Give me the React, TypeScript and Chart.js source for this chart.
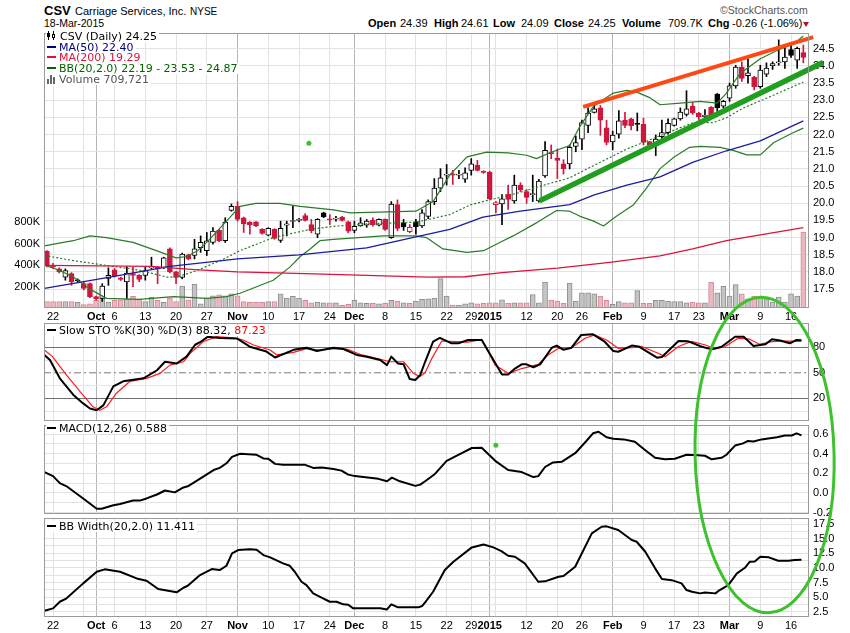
import React, { useEffect, useRef } from 'react';
import { Chart, registerables } from 'chart.js';

Chart.register(...registerables);

const FONT = "'Liberation Sans', Arial, Helvetica, sans-serif";
const LEGEND_FONT = "'DejaVu Sans', Verdana, sans-serif";

// ---------------- data (trading-day index 0 = 19-Sep-2014 ... 123 = 18-Mar-2015) ----------------
const OPEN = [
  18.60, 18.19, 18.09, 17.85, 17.95, 17.76, 17.66, 17.66, 17.28, 17.23,
  17.81, 18.06, 17.83, 17.71, 17.95, 17.90, 17.90, 18.12, 18.14, 18.12,
  18.67, 18.00, 17.84, 18.50, 18.48, 18.71, 18.62, 18.86, 19.21, 18.91,
  19.79, 19.91, 19.58, 19.45, 19.46, 19.24, 19.07, 19.24, 18.92, 19.36,
  19.47, 19.50, 19.64, 19.38, 19.10, 19.72, 19.55, 19.54, 19.60, 19.46,
  19.21, 19.34, 19.36, 19.50, 19.36, 19.53, 19.00, 19.96, 19.43, 19.17,
  19.46, 19.34, 19.62, 20.05, 20.44, 20.82, 20.86, 20.82, 20.70, 20.96,
  21.11, 20.93, 20.91, 19.96, 19.98, 20.26, 20.07, 20.53, 20.34, 20.25,
  20.07, 20.80, 21.48, 21.32, 21.15, 21.15, 21.66, 21.87, 22.27, 22.65,
  22.78, 22.20, 21.79, 22.01, 22.42, 22.46, 22.33, 22.30, 21.80, 21.70,
  21.94, 22.06, 22.27, 22.46, 22.59, 22.83, 22.63, 22.52, 22.80, 23.18,
  22.83, 23.06, 23.42, 23.97, 23.72, 23.67, 23.40, 23.76, 24.00, 24.09,
  24.12, 24.48, 24.17, 24.39,
];
const HIGH = [
  18.62, 18.25, 18.12, 18.09, 17.98, 17.80, 17.70, 17.68, 17.30, 17.66,
  18.12, 18.10, 17.85, 18.16, 18.14, 17.92, 18.16, 18.43, 18.16, 18.43,
  18.70, 18.02, 18.55, 18.52, 18.95, 19.05, 19.15, 19.29, 19.24, 19.58,
  19.98, 20.05, 19.60, 19.47, 19.47, 19.26, 19.29, 19.26, 19.48, 19.48,
  19.91, 19.56, 19.70, 19.53, 19.55, 19.74, 19.67, 19.62, 19.62, 19.48,
  19.48, 19.58, 19.53, 19.58, 19.55, 19.55, 20.05, 20.10, 19.53, 19.38,
  19.53, 19.82, 20.10, 20.72, 21.01, 21.13, 20.96, 20.96, 21.03, 21.30,
  21.25, 20.95, 20.93, 20.05, 20.25, 20.53, 20.82, 20.60, 20.40, 20.82,
  20.70, 21.80, 21.70, 21.58, 21.27, 21.70, 21.96, 22.42, 22.78, 22.94,
  22.85, 22.42, 22.10, 22.70, 22.65, 22.48, 22.63, 22.48, 21.80, 21.99,
  22.42, 22.46, 22.48, 22.78, 23.28, 22.94, 22.65, 22.73, 22.82, 23.20,
  23.00, 23.50, 24.02, 24.12, 24.21, 23.70, 24.02, 24.09, 24.12, 24.76,
  24.60, 24.66, 24.55, 24.61,
];
const LOW = [
  18.15, 18.10, 17.97, 17.76, 17.61, 17.70, 17.48, 17.25, 17.18, 17.14,
  17.61, 17.85, 17.75, 17.23, 17.57, 17.72, 17.76, 18.09, 17.66, 18.10,
  17.97, 17.66, 17.80, 18.35, 18.38, 18.57, 18.48, 18.81, 18.88, 18.86,
  19.77, 19.48, 19.15, 19.10, 19.32, 19.10, 19.05, 18.95, 18.86, 19.05,
  19.29, 19.46, 19.48, 19.14, 19.00, 19.58, 19.38, 19.48, 19.48, 19.14,
  19.14, 19.33, 19.30, 19.33, 19.34, 19.21, 18.98, 19.20, 19.21, 19.14,
  19.10, 19.30, 19.55, 19.96, 20.34, 20.53, 20.55, 20.72, 20.61, 20.82,
  20.94, 20.87, 20.11, 19.72, 19.38, 19.82, 20.00, 20.34, 20.00, 20.05,
  20.03, 20.75, 21.30, 20.72, 20.85, 21.00, 21.50, 21.56, 22.06, 22.63,
  21.98, 21.70, 21.56, 21.90, 22.20, 22.14, 22.11, 21.70, 21.65, 21.39,
  21.82, 22.01, 22.25, 22.42, 22.54, 22.59, 22.42, 22.42, 22.48, 22.68,
  22.78, 22.97, 23.35, 23.55, 23.50, 23.30, 23.35, 23.69, 23.90, 24.02,
  23.93, 24.25, 23.93, 24.09,
];
const CLOSE = [
  18.19, 18.14, 18.00, 18.04, 17.71, 17.74, 17.52, 17.28, 17.22, 17.59,
  17.90, 17.88, 17.78, 17.97, 17.90, 17.78, 18.04, 18.14, 18.09, 18.41,
  18.00, 17.84, 18.52, 18.38, 18.67, 18.86, 18.91, 19.19, 18.91, 19.45,
  19.91, 19.53, 19.40, 19.38, 19.34, 19.12, 19.27, 18.98, 19.27, 19.40,
  19.49, 19.53, 19.50, 19.20, 19.53, 19.60, 19.52, 19.56, 19.50, 19.19,
  19.33, 19.43, 19.48, 19.38, 19.53, 19.24, 19.98, 19.27, 19.31, 19.30,
  19.32, 19.72, 20.05, 20.44, 20.74, 20.84, 20.82, 20.83, 20.89, 21.15,
  20.96, 20.90, 20.13, 20.02, 20.13, 20.11, 20.53, 20.39, 20.17, 20.28,
  20.65, 21.54, 21.44, 21.25, 21.01, 21.63, 21.77, 22.35, 22.63, 22.75,
  22.42, 21.77, 21.99, 22.40, 22.27, 22.26, 22.30, 21.77, 21.70, 21.87,
  22.06, 22.33, 22.46, 22.66, 22.75, 22.63, 22.52, 22.57, 22.52, 22.78,
  22.97, 23.42, 23.97, 23.64, 23.80, 23.40, 23.88, 23.94, 24.07, 24.10,
  24.26, 24.31, 24.51, 24.25,
];
// volume in thousands of shares
const VOLUME_K = [
  61, 61, 61, 61, 61, 52, 31, 40, 71, 92,
  55, 71, 77, 83, 108, 83, 61, 101, 71, 52,
  92, 61, 206, 77, 224, 40, 92, 114, 123, 114,
  132, 114, 61, 52, 52, 52, 61, 61, 132, 92,
  108, 92, 71, 49, 55, 49, 49, 49, 25, 34,
  71, 49, 43, 43, 40, 43, 71, 65, 49, 43,
  65, 80, 86, 92, 274, 111, 28, 28, 40, 49,
  40, 43, 49, 49, 77, 43, 49, 49, 49, 126,
  49, 243, 74, 65, 43, 234, 65, 141, 141, 132,
  111, 71, 34, 59, 49, 49, 163, 43, 43, 71,
  71, 65, 59, 59, 49, 55, 49, 49, 243, 141,
  203, 111, 218, 132, 86, 111, 111, 86, 55, 101,
  55, 132, 111, 709.721,
];

// overlays: [trading-day index, value]
const MA50 = [[-0.4, 17.52], [10, 17.84], [20, 18.16], [31, 18.38], [41, 18.5], [52, 18.7], [60, 19.02], [65.5, 19.24], [70.9, 19.6], [77, 19.77], [85, 19.96], [88.9, 20.24], [94.3, 20.53], [99.7, 20.77], [105.1, 21.2], [110.5, 21.53], [116, 21.82], [123, 22.4]];
const MA200 = [[-0.4, 18.19], [17, 18.16], [24, 18.07], [31, 18.0], [42, 17.95], [52, 17.9], [62, 17.85], [68, 17.86], [74, 17.98], [83, 18.11], [91.5, 18.28], [99.7, 18.47], [105, 18.67], [110.5, 18.91], [116, 19.08], [123, 19.29]];
const BB_UPPER = [[-0.4, 18.76], [2, 18.84], [4.3, 18.91], [7, 19.05], [9.7, 19.0], [14, 18.86], [17.8, 18.62], [21, 18.41], [22.7, 18.45], [24.5, 18.62], [26, 18.86], [29.2, 19.48], [31.4, 19.91], [34, 20.0], [37.9, 20.0], [41.2, 19.91], [46.6, 19.81], [49.3, 19.72], [60, 19.77], [62.8, 20.05], [65.5, 20.82], [68.3, 21.35], [71.5, 21.49], [75, 21.47], [78, 21.4], [79.6, 21.3], [81.5, 21.45], [83.4, 21.58], [85, 21.68], [86.7, 22.25], [88.9, 22.83], [90.5, 23.02], [92.1, 23.21], [94.3, 23.29], [96, 23.23], [98.1, 23.07], [99.7, 22.87], [103, 22.92], [106.2, 22.97], [109, 22.92], [110.5, 23.21], [112.7, 23.78], [116, 24.21], [118.7, 24.45], [121.4, 24.64], [123, 24.87]];
const BB_MIDDLE = [[-0.4, 18.48], [4.3, 18.33], [9.7, 18.19], [15.1, 18.05], [19.5, 17.85], [21, 17.85], [23.8, 18.0], [28.2, 18.33], [31.4, 18.62], [36.8, 19.0], [42.8, 19.24], [46.6, 19.33], [52, 19.4], [60, 19.45], [65.5, 19.67], [68.8, 19.95], [70.9, 20.05], [76.4, 20.29], [81.8, 20.58], [85, 20.74], [88.9, 21.1], [94.3, 21.58], [99.7, 21.97], [105.1, 22.35], [108.3, 22.35], [110.5, 22.49], [113.3, 22.78], [117, 23.06], [123, 23.53]];
const BB_LOWER = [[-0.4, 18.2], [2, 18.05], [4.3, 17.85], [7, 17.5], [9.7, 17.23], [15, 17.2], [20.6, 17.28], [26, 17.23], [29.2, 17.28], [31.4, 17.38], [36.8, 17.76], [39.5, 18.14], [41.2, 18.45], [42.8, 18.67], [44.4, 18.91], [46.6, 18.95], [54.7, 19.05], [60, 19.05], [61.7, 19.0], [64.4, 18.67], [68.3, 18.57], [71, 18.62], [74.2, 18.91], [75.8, 19.05], [79.6, 19.43], [82.9, 19.79], [85, 19.77], [86.7, 19.62], [88.9, 19.48], [90.5, 19.34], [92.6, 19.62], [95.4, 19.96], [97.5, 20.44], [99.7, 21.01], [102, 21.35], [104.5, 21.63], [106.2, 21.66], [109.5, 21.63], [111.6, 21.54], [113.8, 21.41], [116, 21.41], [118.2, 21.77], [121.4, 22.06], [123, 22.19]];
const TREND_UPPER = [[87.2, 22.81], [124.6, 24.84]];
const TREND_LOWER = [[80.1, 20.07], [126.2, 24.1]];
const MAIN_MARK = [[42.6, 21.75]];

const STO_K = [[-0.4, 71], [0.5, 65], [2.1, 43.5], [4.3, 24], [5.9, 14], [7, 8], [8.1, 6], [9.2, 12], [10.8, 34], [12.4, 40], [15.7, 43.5], [17.9, 53], [19.2, 63], [21.1, 61], [22.7, 69], [24.1, 83], [24.9, 86], [26.2, 92.5], [28.1, 91], [30.9, 90.5], [33, 80.7], [35.7, 75], [37.1, 68], [40.1, 77], [42.2, 79.5], [43.9, 75.6], [46.6, 79.5], [48.2, 78], [50.4, 71], [52, 69], [54.2, 65], [55.3, 59], [56, 69], [57.1, 61], [58, 60], [59, 42.7], [59.9, 41.5], [60.7, 47.4], [61.5, 63], [62.8, 86.6], [63.9, 91], [65.8, 84.7], [66.9, 84.7], [68.5, 88.6], [70.7, 88.6], [74, 48], [75, 48], [76.1, 55], [77.2, 60], [78, 60], [79.1, 56.5], [80.2, 60], [82.1, 79.5], [82.9, 82], [84, 77], [85.3, 79.5], [86.9, 94.5], [88.8, 95.3], [90.7, 86.6], [92.1, 75.6], [92.9, 74.8], [95.1, 82], [96.2, 81], [99.2, 67.8], [100, 68.5], [102.7, 87.4], [104.3, 87], [106.5, 80.7], [108.1, 77.6], [109.7, 80.7], [111.9, 92.5], [113.3, 92.5], [114.9, 81.5], [116.8, 83.5], [117.9, 89.4], [119.2, 88], [120.8, 84.7], [121.9, 88.6], [122.7, 88.32]];
const STO_D = [[-0.4, 76.8], [0.9, 69], [3.2, 47.4], [5.4, 27.8], [7.5, 10], [8.6, 6], [9.7, 10], [11.3, 26], [13.5, 40], [16.2, 43.5], [18.4, 49.4], [20, 59], [22.2, 63], [23.3, 73], [25.4, 86.6], [27.6, 92.5], [30.3, 91], [31.9, 88.6], [33.6, 82.7], [36.3, 76.8], [37.4, 71], [40.1, 74], [42.2, 78.4], [44.4, 76.8], [46.6, 78.4], [48.8, 78], [50.9, 71.8], [53.6, 67], [55.8, 63], [58, 63], [59.6, 49.4], [60.6, 45.5], [61.5, 50], [62.6, 67], [64.2, 87.4], [66.4, 86.6], [68.5, 86], [70.7, 89.4], [72.9, 59], [75, 49.4], [77.2, 55], [79.9, 60], [81.5, 71], [83.2, 78.8], [85.3, 79.5], [87.5, 90.6], [89.1, 94.5], [91, 88.6], [92.9, 78.8], [95.1, 79.5], [96.7, 81], [99.4, 73], [100.5, 69], [102.7, 81], [104.8, 87], [107.1, 82.7], [108.7, 78], [110.2, 80.7], [112.4, 90.6], [114.1, 90], [115.9, 83.5], [117.9, 86.6], [120, 87.4], [122.7, 87.23]];
const STO_LEVEL_MID = 50;

const MACD = [[-0.4, 0.213], [1, 0.172], [2.1, 0.1], [3.2, 0.068], [5.9, -0.056], [8.1, -0.162], [8.9, -0.162], [10.8, -0.125], [11.9, -0.112], [14, -0.078], [15.1, -0.078], [16.2, -0.056], [17.9, -0.016], [19.2, 0.025], [20.8, 0.006], [22.2, 0.056], [22.9, 0.068], [24.4, 0.125], [27.1, 0.234], [28.1, 0.256], [29.2, 0.303], [30.1, 0.368], [31.4, 0.4], [34.1, 0.39], [35.2, 0.353], [36, 0.35], [37.1, 0.297], [38.4, 0.287], [42, 0.287], [43.3, 0.256], [44.7, 0.26], [46.6, 0.244], [47.9, 0.228], [49, 0.187], [50.1, 0.172], [53.9, 0.144], [55.3, 0.119], [56.1, 0.156], [57.4, 0.119], [59.9, 0.072], [60.7, 0.085], [61.5, 0.12], [63.1, 0.194], [65, 0.328], [66.9, 0.39], [69.1, 0.459], [70.7, 0.462], [72.9, 0.328], [75, 0.234], [77.2, 0.213], [79.1, 0.162], [79.9, 0.172], [81, 0.265], [82.3, 0.312], [83.7, 0.318], [85.9, 0.406], [87.5, 0.515], [88.8, 0.609], [89.7, 0.625], [91, 0.569], [92.1, 0.553], [93.8, 0.547], [95.6, 0.522], [97.3, 0.437], [98.9, 0.359], [100.5, 0.344], [102.1, 0.35], [104, 0.39], [105.9, 0.384], [107, 0.38], [108.1, 0.344], [109.7, 0.359], [110.5, 0.39], [111.9, 0.484], [113.2, 0.506], [114, 0.531], [114.9, 0.525], [116.2, 0.547], [118.7, 0.569], [120, 0.587], [121.1, 0.587], [121.9, 0.609], [122.7, 0.588]];
const MACD_MARK = [[73.0, 0.487]];

const BB_WIDTH = [[-0.4, 2.67], [1, 3.08], [2.1, 4.21], [3.2, 4.79], [5.9, 7.35], [8.1, 9.34], [9.4, 9.75], [11.9, 9.34], [14.6, 8.2], [16.2, 7.8], [18.1, 6.38], [21.1, 5.82], [22.2, 6.6], [22.9, 6.94], [24.9, 8.77], [26.8, 9.8], [28.1, 9.63], [29.2, 10.36], [30.1, 12.48], [31.1, 13.05], [33, 13.2], [34.1, 13.1], [35.2, 12.19], [36.3, 11.8], [38.4, 10.77], [39.5, 10.36], [40.3, 9.34], [41.4, 7.63], [42.2, 7.06], [43.3, 5.64], [44.9, 4.79], [46, 4.21], [47.1, 4.21], [48.2, 3.76], [49, 3.7], [49.8, 3.08], [54.2, 3.08], [55.3, 2.9], [56, 3.76], [57.1, 3.25], [60.4, 3.25], [61, 3.47], [61.5, 4.1], [62.8, 5.92], [64.7, 9.63], [66.1, 11.05], [69.1, 13.5], [71, 14.0], [72.6, 13.5], [73.9, 12.87], [75, 12.07], [76.1, 11.9], [77.7, 10.77], [79.9, 7.63], [81, 7.7], [83.2, 8.48], [84, 8.6], [85.9, 10.19], [88.6, 15.9], [90.2, 17.03], [91, 17.1], [92.9, 16.47], [95.1, 14.76], [95.9, 14.47], [97.3, 12.76], [98.9, 9.92], [100, 8.09], [101.6, 7.9], [103.2, 7.35], [104, 6.21], [104.9, 5.92], [106.2, 5.64], [107, 5.8], [108.7, 5.64], [109.4, 6.21], [110.8, 7.06], [112.2, 9.06], [113.5, 10.02], [114.3, 11.05], [115.1, 11.1], [116, 11.9], [117.4, 11.8], [118.9, 11.22], [120.6, 11.2], [121.6, 11.34], [122.7, 11.41]];

// hand-drawn ellipse annotation, in (trading-day index, BB-width units)
const ELLIPSE_CENTER = [116.7, 29.3];
const ELLIPSE_RADII = [11.3, 27.0];
const ELLIPSE_TILT = -0.025;

// ---------------- axes ----------------
const X_MIN = -0.472;
const X_MAX = 123.92;
const TICK_INDEX = [1, 6, 8, 11, 16, 21, 26, 31, 36, 41, 46, 50, 55, 60, 65, 69, 72, 73, 78, 83, 87, 92, 97, 102, 106, 111, 116, 121];
const TICK_LABELS = ['22', '', 'Oct', '6', '13', '20', '27', 'Nov', '10', '17', '24', 'Dec', '8', '15', '22', '29', '2015', '', '12', '20', '26', 'Feb', '9', '17', '23', 'Mar', '9', '16'];
const MONTH_INDEX = [8, 31, 50, 72, 92, 111];

const PRICE_MIN = 16.95;
const PRICE_MAX = 24.96;
const PRICE_TICKS = [17.5, 18, 18.5, 19, 19.5, 20, 20.5, 21, 21.5, 22, 22.5, 23, 23.5, 24, 24.5];
const VOL_MAX = 2570;
const VOL_TICKS = [200, 400, 600, 800];
const STO_MIN = -6.7;
const STO_MAX = 108.6;
const STO_TICKS = [5, 20, 35, 50, 65, 80, 95];
const STO_LABELED = [20, 50, 80];
const STO_STRONG = [20, 80];
const MACD_MIN = -0.215;
const MACD_MAX = 0.694;
const MACD_TICKS = [-0.2, -0.1, 0, 0.1, 0.2, 0.3, 0.4, 0.5, 0.6];
const BBW_MIN = 1.6;
const BBW_MAX = 18.53;
const BBW_TICKS = [2.5, 3.75, 5, 6.25, 7.5, 8.75, 10, 11.25, 12.5, 13.75, 15, 16.25, 17.5];

// header / legend text
const HEADER_LABELS = ['Open', 'High', 'Low', 'Close', 'Volume', 'Chg'];
const HEADER_VALUES = ['24.39', '24.61', '24.09', '24.25', '709.7K', '-0.26 (-1.06%)'];

// ---------------- styles ----------------
const UP = '#000000';
const DOWN = '#d0163c';
const VOL_UP_FILL = '#c4c4c4';
const VOL_UP_LINE = '#8e8e8e';
const VOL_DOWN_FILL = '#ebb8c0';
const VOL_DOWN_LINE = '#d08896';
const BB_COLOR = '#2a7a2a';
const GRID = '#e2e2e2';
const GRID_MONTH = '#b4b4b4';
const HEADER_LABEL_X = [368, 434, 493, 554, 622, 708];
const HEADER_VALUE_X = [400, 461, 521, 588, 668, 732];

const IDX = OPEN.map((_, i) => i);
const candleColor = IDX.map((i) => (CLOSE[i] >= (i ? CLOSE[i - 1] : OPEN[i]) ? UP : DOWN));
const candleFill = IDX.map((i) => (CLOSE[i] > OPEN[i] ? '#ffffff' : candleColor[i]));
const volFill = IDX.map((i) => (candleColor[i] === DOWN ? VOL_DOWN_FILL : VOL_UP_FILL));
const volLine = IDX.map((i) => (candleColor[i] === DOWN ? VOL_DOWN_LINE : VOL_UP_LINE));

const pts = (arr: number[][]) => arr.map(([x, y]) => ({ x, y }));

const zeroPad = (s: any) => {
  s.paddingTop = 0;
  s.paddingBottom = 0;
  s.paddingLeft = 0;
  s.paddingRight = 0;
};
const fixW = (w: number) => (s: any) => {
  s.width = w;
  zeroPad(s);
};
const fixH = (h: number) => (s: any) => {
  s.height = h;
  zeroPad(s);
};
const setTicks = (vals: number[]) => (s: any) => {
  s.ticks = vals.map((v) => ({ value: v }));
};

function xScale(showLabels: boolean, height: number) {
  return {
    type: 'linear',
    min: X_MIN,
    max: X_MAX,
    bounds: 'data',
    offset: false,
    afterBuildTicks: setTicks(TICK_INDEX),
    afterFit: fixH(height),
    grid: {
      offset: false,
      drawTicks: false,
      lineWidth: 1,
      color: (c: any) => (c.tick && MONTH_INDEX.includes(c.tick.value) ? GRID_MONTH : GRID),
    },
    border: { display: false },
    ticks: {
      display: showLabels,
      autoSkip: false,
      maxRotation: 0,
      minRotation: 0,
      padding: 2,
      color: '#000',
      font: (c: any) => ({
        family: FONT,
        size: 11,
        weight: c.tick && MONTH_INDEX.includes(c.tick.value) ? 'bold' : 'normal',
      }),
      callback: (v: number) => {
        const k = TICK_INDEX.indexOf(v);
        return k >= 0 ? TICK_LABELS[k] : '';
      },
    },
  };
}

function yScale(o: any) {
  return {
    type: 'linear',
    axis: 'y',
    position: o.position || 'right',
    min: o.min,
    max: o.max,
    bounds: 'data',
    afterBuildTicks: setTicks(o.ticks),
    afterFit: fixW(o.width),
    grid: { display: o.grid !== false, drawTicks: false, color: o.gridColor || GRID, lineWidth: 1 },
    border: { display: false },
    ticks: {
      padding: 4,
      color: '#000',
      autoSkip: false,
      font: { family: FONT, size: 11 },
      callback: o.label,
    },
  };
}

const framePlugin = {
  id: 'frame',
  afterDraw(chart: any) {
    const { ctx, chartArea: a } = chart;
    ctx.save();
    ctx.strokeStyle = '#9a9a9a';
    ctx.lineWidth = 1;
    ctx.strokeRect(Math.round(a.left) + 0.5, Math.round(a.top) + 0.5, Math.round(a.right - a.left) - 1, Math.round(a.bottom - a.top) - 1);
    ctx.restore();
  },
};

const ellipsePlugin = {
  id: 'ellipse',
  afterDraw(chart: any) {
    const { ctx, scales } = chart;
    const x = scales.x;
    const y = scales.y;
    const cx = x.getPixelForValue(ELLIPSE_CENTER[0]);
    const cy = y.getPixelForValue(ELLIPSE_CENTER[1]);
    const rx = x.getPixelForValue(ELLIPSE_CENTER[0] + ELLIPSE_RADII[0]) - cx;
    const ry = cy - y.getPixelForValue(ELLIPSE_CENTER[1] + ELLIPSE_RADII[1]);
    ctx.save();
    ctx.strokeStyle = '#3cc22c';
    ctx.lineWidth = 3;
    ctx.beginPath();
    ctx.ellipse(cx, cy, rx, ry, ELLIPSE_TILT, 0, Math.PI * 2);
    ctx.stroke();
    ctx.restore();
  },
};

const baseOptions = (padding: any) => ({
  animation: false,
  responsive: false,
  events: [],
  layout: { padding },
  plugins: { legend: { display: false }, tooltip: { enabled: false } },
});

function lineDs(data: number[][], color: string, width: number, extra: any = {}) {
  return {
    type: 'line',
    data: pts(data),
    borderColor: color,
    backgroundColor: color,
    borderWidth: width,
    pointRadius: 0,
    tension: 0,
    fill: false,
    borderJoinStyle: 'round',
    ...extra,
  };
}

function makeMain(canvas: HTMLCanvasElement) {
  return new Chart(canvas, {
    type: 'bar',
    data: {
      datasets: [
        {
          type: 'bar',
          yAxisID: 'vol',
          data: IDX.map((i) => ({ x: i, y: VOLUME_K[i] })),
          backgroundColor: volFill,
          borderColor: volLine,
          borderWidth: 1,
          borderSkipped: 'start',
          barThickness: 5,
          grouped: false,
          order: 10,
        },
        {
          type: 'bar',
          yAxisID: 'y',
          data: IDX.map((i) => ({ x: i, y: [LOW[i], HIGH[i]] })),
          backgroundColor: candleColor,
          borderWidth: 0,
          barThickness: 1,
          grouped: false,
          order: 6,
        },
        {
          type: 'bar',
          yAxisID: 'y',
          data: IDX.map((i) => ({ x: i, y: [OPEN[i], CLOSE[i]] })),
          backgroundColor: candleFill,
          borderColor: candleColor,
          borderWidth: 1,
          borderSkipped: false,
          barThickness: 5,
          minBarLength: 1,
          grouped: false,
          order: 5,
        },
        { ...lineDs(BB_UPPER, BB_COLOR, 1.2), yAxisID: 'y', order: 3 },
        { ...lineDs(BB_LOWER, BB_COLOR, 1.2), yAxisID: 'y', order: 3 },
        { ...lineDs(BB_MIDDLE, BB_COLOR, 1.2, { borderDash: [2, 2] }), yAxisID: 'y', order: 3 },
        { ...lineDs(MA200, '#dc143c', 1.3), yAxisID: 'y', order: 2 },
        { ...lineDs(MA50, '#1c1c9c', 1.3), yAxisID: 'y', order: 2 },
        { ...lineDs(TREND_UPPER, '#ff4812', 4, { borderCapStyle: 'butt' }), yAxisID: 'y', order: 1, clip: false },
        { ...lineDs(TREND_LOWER, '#1f9e1f', 5.5, { borderCapStyle: 'butt' }), yAxisID: 'y', order: 1, clip: false },
        {
          type: 'line',
          yAxisID: 'y',
          data: pts(MAIN_MARK),
          showLine: false,
          pointRadius: 2.5,
          pointBackgroundColor: '#3cc22c',
          pointBorderWidth: 0,
          order: 0,
        },
      ],
    },
    options: {
      ...baseOptions(0),
      scales: {
        x: xScale(true, 15),
        y: yScale({ min: PRICE_MIN, max: PRICE_MAX, ticks: PRICE_TICKS, width: 41, label: (v: number) => Number(v).toFixed(1) }),
        vol: yScale({ position: 'left', min: 0, max: VOL_MAX, ticks: VOL_TICKS, width: 44, grid: false, label: (v: number) => `${v}K` }),
      },
    },
    plugins: [framePlugin],
  } as any);
}

function makeSto(canvas: HTMLCanvasElement) {
  return new Chart(canvas, {
    type: 'line',
    data: {
      datasets: [
        {
          ...lineDs([[X_MIN, STO_LEVEL_MID], [X_MAX, STO_LEVEL_MID]], '#7a7a7a', 1, { borderDash: [7, 3, 2, 3] }),
          order: 5,
        },
        { ...lineDs(STO_D, '#ff1a1a', 1.2), order: 2 },
        { ...lineDs(STO_K, '#000000', 2), order: 1 },
      ],
    },
    options: {
      ...baseOptions({ left: 44 }),
      scales: {
        x: xScale(false, 0),
        y: yScale({
          min: STO_MIN,
          max: STO_MAX,
          ticks: STO_TICKS,
          width: 41,
          gridColor: (c: any) =>
            c.tick && STO_STRONG.includes(c.tick.value) ? '#707070' : c.tick && c.tick.value === STO_LEVEL_MID ? 'rgba(0,0,0,0)' : '#e6e6e6',
          label: (v: number) => (STO_LABELED.includes(v) ? String(v) : ''),
        }),
      },
    },
    plugins: [framePlugin],
  } as any);
}

function makeMacd(canvas: HTMLCanvasElement) {
  return new Chart(canvas, {
    type: 'line',
    data: {
      datasets: [
        { ...lineDs(MACD, '#000000', 2), order: 1 },
        {
          type: 'line',
          data: pts(MACD_MARK),
          showLine: false,
          pointRadius: 2.5,
          pointBackgroundColor: '#3cc22c',
          pointBorderWidth: 0,
          order: 0,
        },
      ],
    },
    options: {
      ...baseOptions({ left: 44 }),
      scales: {
        x: xScale(false, 0),
        y: yScale({
          min: MACD_MIN,
          max: MACD_MAX,
          ticks: MACD_TICKS,
          width: 41,
          label: (v: number) => (Math.round(v * 10) % 2 === 0 ? Number(v).toFixed(1) : ''),
        }),
      },
    },
    plugins: [framePlugin],
  } as any);
}

function makeBbw(canvas: HTMLCanvasElement) {
  return new Chart(canvas, {
    type: 'line',
    data: { datasets: [{ ...lineDs(BB_WIDTH, '#000000', 2), order: 1 }] },
    options: {
      ...baseOptions({ left: 44, top: 228 }),
      scales: {
        x: xScale(true, 16),
        y: yScale({
          min: BBW_MIN,
          max: BBW_MAX,
          ticks: BBW_TICKS,
          width: 41,
          label: (v: number) => (Math.round(v * 100) % 250 === 0 ? Number(v).toFixed(1) : ''),
        }),
      },
    },
    plugins: [framePlugin, ellipsePlugin],
  } as any);
}

function ChartCanvas({ top, height, make }: { top: number; height: number; make: (c: HTMLCanvasElement) => any }) {
  const ref = useRef<HTMLCanvasElement>(null);
  useEffect(() => {
    const chart = make(ref.current as HTMLCanvasElement);
    return () => chart.destroy();
  }, []);
  return (
    <canvas
      ref={ref}
      width={850}
      height={height}
      style={{ position: 'absolute', left: 0, top, width: 850, height, display: 'block' }}
    />
  );
}

const legendBox = (top: number): React.CSSProperties => ({
  position: 'absolute',
  left: 46,
  top,
  height: 11,
  lineHeight: '11px',
  fontSize: 11,
  fontFamily: LEGEND_FONT,
  background: '#fff',
  paddingRight: 2,
  paddingLeft: 1,
  whiteSpace: 'nowrap',
  zIndex: 3,
});

function Dash({ color }: { color: string }) {
  return (
    <span
      style={{ display: 'inline-block', width: 9, height: 2, background: color, verticalAlign: 'middle', marginRight: 3, position: 'relative', top: -1 }}
    />
  );
}

function CandleIcon() {
  return (
    <span style={{ display: 'inline-block', position: 'relative', width: 10, height: 9, marginRight: 3, verticalAlign: 'middle', top: -1 }}>
      <span style={{ position: 'absolute', left: 1, top: 0, width: 1, height: 9, background: '#000' }} />
      <span style={{ position: 'absolute', left: 0, top: 2, width: 3, height: 4, background: '#000' }} />
      <span style={{ position: 'absolute', left: 6, top: 0, width: 1, height: 9, background: '#000' }} />
      <span style={{ position: 'absolute', left: 5, top: 3, width: 3, height: 4, border: '1px solid #000', boxSizing: 'border-box', background: '#fff' }} />
    </span>
  );
}

function VolIcon() {
  return (
    <span style={{ display: 'inline-block', position: 'relative', width: 10, height: 9, marginRight: 2, verticalAlign: 'middle', top: -1 }}>
      <span style={{ position: 'absolute', left: 0, bottom: 0, width: 2, height: 5, background: '#666' }} />
      <span style={{ position: 'absolute', left: 3, bottom: 0, width: 2, height: 9, background: '#666' }} />
      <span style={{ position: 'absolute', left: 6, bottom: 0, width: 2, height: 7, background: '#666' }} />
    </span>
  );
}

export default function App() {
  const txt = (extra: React.CSSProperties): React.CSSProperties => ({
    position: 'absolute',
    whiteSpace: 'nowrap',
    fontFamily: FONT,
    zIndex: 3,
    ...extra,
  });
  return (
    <div style={{ position: 'absolute', left: 0, top: 0, width: 850, height: 633, background: '#fff', overflow: 'hidden' }}>
      <ChartCanvas top={29} height={294} make={makeMain} />
      <ChartCanvas top={323} height={98} make={makeSto} />
      <ChartCanvas top={421} height={97} make={makeMacd} />
      <ChartCanvas top={290} height={343} make={makeBbw} />

      {/* header */}
      <div style={txt({ left: 44, top: 4, fontSize: 13, lineHeight: '13px', fontWeight: 'bold' })}>CSV</div>
      <div style={txt({ left: 75, top: 5.7, fontSize: 11, lineHeight: '11px' })}>Carriage Services, Inc.</div>
      <div style={txt({ left: 190, top: 6.5, fontSize: 10, lineHeight: '10px' })}>NYSE</div>
      <div style={txt({ left: 44, top: 18.2, fontSize: 10.5, lineHeight: '10.5px' })}>18-Mar-2015</div>
      <div style={txt({ left: 720, top: 5.2, fontSize: 10.5, lineHeight: '10.5px', color: '#555' })}>©StockCharts.com</div>
      {HEADER_LABELS.map((l, k) => (
        <React.Fragment key={l}>
          <div style={txt({ left: HEADER_LABEL_X[k], top: 17.7, fontSize: 11, lineHeight: '11px', fontWeight: 'bold' })}>{l}</div>
          <div style={txt({ left: HEADER_VALUE_X[k], top: 17.7, fontSize: 11, lineHeight: '11px' })}>{HEADER_VALUES[k]}</div>
        </React.Fragment>
      ))}
      <div
        style={{
          position: 'absolute',
          left: 803,
          top: 22,
          width: 0,
          height: 0,
          borderLeft: '3.5px solid transparent',
          borderRight: '3.5px solid transparent',
          borderTop: '5px solid #b01038',
          zIndex: 3,
        }}
      />

      {/* price panel legend */}
      <div style={legendBox(30.8)}>
        <CandleIcon />
        <span style={{ color: '#000' }}>CSV (Daily) 24.25</span>
      </div>
      <div style={legendBox(41.6)}>
        <Dash color="#000080" />
        <span style={{ color: '#000080' }}>MA(50) 22.40</span>
      </div>
      <div style={legendBox(52.4)}>
        <Dash color="#dc143c" />
        <span style={{ color: '#dc143c' }}>MA(200) 19.29</span>
      </div>
      <div style={legendBox(63.3)}>
        <Dash color="#006400" />
        <span style={{ color: '#006400' }}>BB(20,2.0) 22.19 - 23.53 - 24.87</span>
      </div>
      <div style={legendBox(74.1)}>
        <VolIcon />
        <span style={{ color: '#555' }}>Volume 709,721</span>
      </div>

      {/* indicator legends */}
      <div style={legendBox(325)}>
        <Dash color="#000" />
        <span>Slow STO %K(30) %D(3) 88.32, </span>
        <span style={{ color: '#ff0000' }}>87.23</span>
      </div>
      <div style={legendBox(423.3)}>
        <Dash color="#000" />
        <span>MACD(12,26) 0.588</span>
      </div>
      <div style={legendBox(521)}>
        <Dash color="#000" />
        <span>BB Width(20,2.0) 11.411</span>
      </div>
    </div>
  );
}
